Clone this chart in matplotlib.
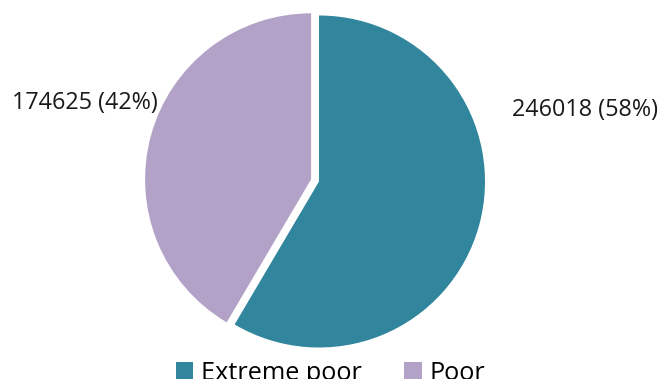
import matplotlib
matplotlib.use("Agg")
import matplotlib.pyplot as plt

categories = ["Extreme poor", "Poor"]
values = [246018, 174625]
colors = ["#31859C", "#B3A2C7"]
labels = ["246018 (58%)", "174625 (42%)"]

plt.rcParams['font.family'] = ['Open Sans', 'DejaVu Sans']

W, H = 662, 379
fig = plt.figure(figsize=(W / 100, H / 100), dpi=100)
ax = fig.add_axes([0, 0, 1, 1])

wedges, _ = ax.pie(values, colors=colors, startangle=90, counterclock=False,
                   center=(319, 197.5), radius=166, explode=[0, 8.2],
                   wedgeprops=dict(linewidth=0), frame=True)
ax.set_xlim(0, W)
ax.set_ylim(0, H)
ax.set_aspect('equal')
ax.axis('off')

ax.text(585, 269, labels[0], ha='center', va='center', fontsize=16.8, color='#1a1a1a')
ax.text(85, 276, labels[1], ha='center', va='center', fontsize=16.8, color='#1a1a1a')

fig.legend(wedges, categories, loc='upper center', bbox_to_anchor=(0.499, 0.075),
           ncol=2, frameon=False, fontsize=18.2, handlelength=0.7, handleheight=0.7,
           handletextpad=0.3, columnspacing=1.68, borderaxespad=0)

fig.savefig("out.png", dpi=100)
